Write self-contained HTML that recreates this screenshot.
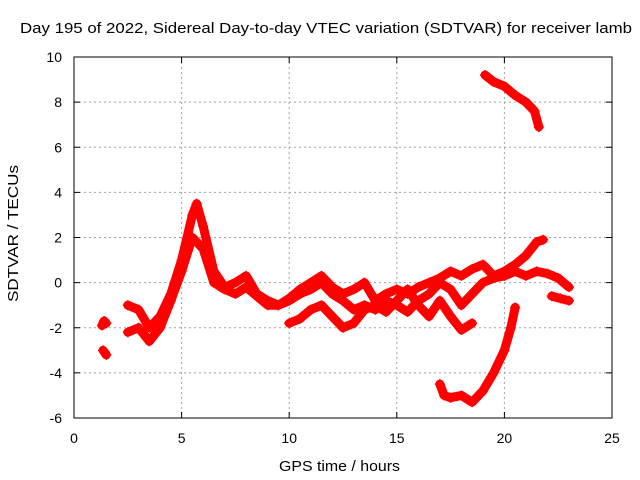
<!DOCTYPE html>
<html><head><meta charset="utf-8"><style>
html,body{margin:0;padding:0;background:#fff;}
svg{display:block;font-family:"Liberation Sans",sans-serif;}
</style></head><body>
<svg id="chart" width="640" height="480" viewBox="0 0 640 480">
<rect width="640" height="480" fill="#fff"/>
<text x="20" y="33" font-size="15" textLength="612" lengthAdjust="spacingAndGlyphs">Day 195 of 2022, Sidereal Day-to-day VTEC variation (SDTVAR) for receiver lamb</text>
<g id="grid"></g>
<g id="ticks"></g>
<g id="series"></g>
<rect x="74" y="57" width="538" height="361" fill="none" stroke="#000" stroke-width="1"/>
<text x="279" y="471" font-size="15" textLength="121" lengthAdjust="spacingAndGlyphs">GPS time / hours</text>
<text x="0" y="0" font-size="15" textLength="137" lengthAdjust="spacingAndGlyphs" transform="translate(18 302) rotate(-90)">SDTVAR / TECUs</text>
</svg>
<script>
const xTicks=[0,5,10,15,20,25];
const yTicks=[-6,-4,-2,0,2,4,6,8,10];
const trackA=[[1.3,-1.9],[1.4,-1.7],[1.5,-1.8]];
const trackB=[[1.35,-3.0],[1.5,-3.2]];
const trackMain=[[2.5,-1.0],[3,-1.2],[3.5,-2.0],[4,-1.5],[4.5,-0.5],[5,1.0],[5.5,3.0],[5.7,3.5],[6,2.5],[6.5,0.5],[7,-0.2],[7.5,0],[8,0.3],[8.5,-0.5],[9,-0.8],[9.5,-1.0],[10,-0.7],[10.5,-0.3],[11,0],[11.5,0.3],[12,-0.2],[12.5,-0.5],[13,-0.3],[13.5,0],[14,-0.8],[14.5,-0.5],[15,-0.3],[15.5,-0.5],[16,-0.2],[16.5,0],[17,0.2],[17.5,0.5],[18,0.3],[18.5,0.6],[19,0.8],[19.5,0.3],[20,0.5],[20.5,0.8],[21,1.2],[21.5,1.8],[21.8,1.9]];
const trackSecond=[[2.5,-2.2],[3,-2.0],[3.5,-2.6],[4,-2.0],[4.5,-0.8],[5,0.5],[5.5,2.0],[6,1.5],[6.5,0.0],[7,-0.3],[7.5,-0.5],[8,-0.2],[8.5,-0.6],[9,-1.0],[9.5,-1.0],[10,-0.8],[10.5,-0.5],[11,-0.3],[11.5,0],[12,-0.5],[12.5,-0.8],[13,-1.2],[13.5,-1.0],[14,-1.2],[14.5,-0.8],[15,-1.0],[15.5,-1.3],[16,-0.8],[16.5,-0.5],[17,0],[17.5,-0.3],[18,-1.0],[18.5,-0.5],[19,0],[19.5,0.2],[20,0.3],[20.5,0.5],[21,0.3],[21.5,0.5],[22,0.4],[22.5,0.2],[23,-0.2]];
const trackLow=[[10,-1.8],[10.5,-1.6],[11,-1.2],[11.5,-1.0],[12,-1.5],[12.5,-2.0],[13,-1.8],[13.5,-1.2],[14,-1.0],[14.5,-1.3],[15,-0.8],[15.5,-0.3],[16,-1.0],[16.5,-1.5],[17,-0.8],[17.5,-1.5],[18,-2.1],[18.5,-1.8]];
const trackBottom=[[17,-4.5],[17.2,-5.0],[17.5,-5.1],[18,-5.0],[18.5,-5.3],[19,-4.8],[19.5,-4.0],[20,-3.0],[20.3,-2.0],[20.5,-1.1]];
const trackTop=[[19.1,9.2],[19.5,8.9],[20,8.7],[20.5,8.3],[21,8.0],[21.4,7.6],[21.6,6.9]];
const trackEnd=[[22.2,-0.6],[22.6,-0.7],[23,-0.8]];
const tracks=[trackA,trackB,trackMain,trackSecond,trackLow,trackBottom,trackTop,trackEnd];

const X0=74,X1=612,Y0=418,Y1=57;
const xs=v=>X0+(v-0)/(25-0)*(X1-X0);
const ys=v=>Y0-(v-(-6))/(10-(-6))*(Y0-Y1);
const NS='http://www.w3.org/2000/svg';
const grid=document.getElementById('grid'),ticks=document.getElementById('ticks'),ser=document.getElementById('series');
function mk(tag,attrs,parent){const e=document.createElementNS(NS,tag);for(const k in attrs)e.setAttribute(k,attrs[k]);parent.appendChild(e);return e;}
xTicks.forEach(t=>{
  const x=xs(t);
  if(t>0&&t<25){const g=mk('line',{x1:x,x2:x,y1:Y1,y2:Y0,stroke:'#a0a0a0','stroke-dasharray':'2,3'},grid);
  
  }
  const tk=mk('path',{d:`M${x},${Y0}v-6M${x},${Y1}v6`,stroke:'#000'},ticks);
  
  
  const l=mk('text',{x:x,y:443,'font-size':'14','text-anchor':'middle'},ticks);l.textContent=t;
  
  
});
yTicks.forEach(t=>{
  const y=ys(t);
  if(t>-6&&t<10){const g=mk('line',{x1:X0,x2:X1,y1:y,y2:y,stroke:'#a0a0a0','stroke-dasharray':'2,3'},grid);
  
  }
  const tk=mk('path',{d:`M${X0},${y}h6M${X1},${y}h-6`,stroke:'#000'},ticks);
  
  
  const l=mk('text',{x:62,y:y+5,'font-size':'14','text-anchor':'end'},ticks);l.textContent=t;
  
  
});
tracks.forEach(tr=>{
  const pl=mk('polyline',{points:tr.map(p=>xs(p[0])+','+ys(p[1])).join(' '),fill:'none',stroke:'#ff0000','stroke-width':'9','stroke-linejoin':'round','stroke-linecap':'round'},ser);
  
  
  tr.forEach(p=>{
    const x=xs(p[0]),y=ys(p[1]);
    const m=mk('path',{d:`M${x-5},${y}h10M${x},${y-5}v10`,stroke:'#ff0000','stroke-width':'1.5'},ser);
    
    
  });
});
</script>
</body></html>
